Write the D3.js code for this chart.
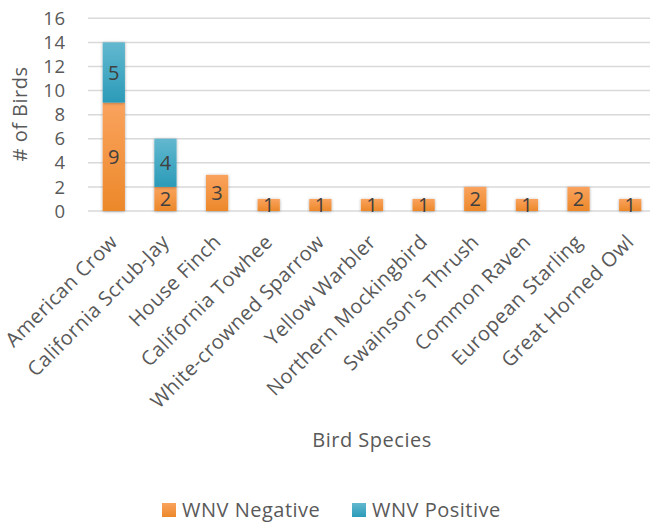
<!DOCTYPE html>
<html>
<head>
<meta charset="utf-8">
<script src="https://cdn.jsdelivr.net/npm/d3@7"></script>
<style>
  body { margin: 0; background: #fff; }
  text { font-family: "Open Sans", sans-serif; }
</style>
</head>
<body>
<div class="canvas"></div>
<script>
const species = ['American Crow', 'California Scrub-Jay', 'House Finch', 'California Towhee',
  'White-crowned Sparrow', 'Yellow Warbler', 'Northern Mockingbird', "Swainson's Thrush",
  'Common Raven', 'European Starling', 'Great Horned Owl']
const negative = [9, 2, 3, 1, 1, 1, 1, 2, 1, 2, 1]
const positive = [5, 4, 0, 0, 0, 0, 0, 0, 0, 0, 0]
const yTicks = [0, 2, 4, 6, 8, 10, 12, 14, 16]
const seriesNames = ['WNV Negative', 'WNV Positive']

const dims = {width: 650, height: 523}
const plot = {left: 88, right: 656, top: 18.3, bottom: 211}

const svg = d3.select('.canvas')
  .append('svg')
  .attr('width', dims.width)
  .attr('height', dims.height)

const defs = svg.append('defs')
const grads = [['neg', '#FAA35E', '#EC882A'], ['pos', '#62B8CF', '#2B9BB8']]
grads.forEach(g => {
  const lg = defs.append('linearGradient').attr('id', 'g-' + g[0])
    .attr('x1', 0).attr('y1', 0).attr('x2', 0).attr('y2', 1)
  lg.append('stop').attr('offset', '0%').attr('stop-color', g[1])
  lg.append('stop').attr('offset', '100%').attr('stop-color', g[2])
})
const shadow = defs.append('filter').attr('id', 'shadow')
  .attr('x', '-50%').attr('y', '-50%').attr('width', '200%').attr('height', '200%')
shadow.append('feDropShadow').attr('dx', 0).attr('dy', 0.5)
  .attr('stdDeviation', 1.6).attr('flood-color', '#000').attr('flood-opacity', 0.35)

const x = d3.scaleBand().domain(species).range([plot.left, plot.right]).paddingInner(0.57).paddingOuter(0.285)
const y = d3.scaleLinear().domain([0, 16]).range([plot.bottom, plot.top])

// gridlines
svg.append('g').selectAll('line')
  .data(yTicks)
  .enter().append('line')
  .attr('x1', plot.left).attr('x2', plot.right)
  .attr('y1', d => y(d)).attr('y2', d => y(d))
  .attr('stroke', '#D9D9D9').attr('stroke-width', 1.5)

// y tick labels
svg.append('g').selectAll('text')
  .data(yTicks)
  .enter().append('text')
  .attr('x', 66).attr('y', d => y(d))
  .attr('dy', '0.36em')
  .attr('text-anchor', 'end')
  .attr('font-size', 18.5)
  .attr('letter-spacing', 0.8)
  .attr('fill', '#595959')
  .text(d => d)

// stacked data
const table = species.map((s, i) => ({name: s, neg: negative[i], pos: positive[i]}))
const stack = d3.stack().keys(['neg', 'pos'])(table)

const graph = svg.append('g')
stack.forEach(layer => {
  graph.append('g').selectAll('rect')
    .data(layer.filter(d => d[1] - d[0] > 0))
    .enter().append('rect')
    .attr('x', d => x(d.data.name))
    .attr('width', x.bandwidth())
    .attr('y', d => y(d[1]))
    .attr('height', d => y(d[0]) - y(d[1]))
    .attr('fill', `url(#g-${layer.key})`)
    .attr('filter', 'url(#shadow)')
})
stack.forEach(layer => {
  graph.append('g').selectAll('text')
    .data(layer.filter(d => d[1] - d[0] > 0))
    .enter().append('text')
    .attr('x', d => x(d.data.name) + x.bandwidth() / 2)
    .attr('y', d => y((d[0] + d[1]) / 2))
    .attr('dy', '0.36em')
    .attr('text-anchor', 'middle')
    .attr('font-size', 20)
    .attr('fill', '#404040')
    .text(d => d[1] - d[0])
})

// x labels
svg.append('g').selectAll('text')
  .data(species)
  .enter().append('text')
  .attr('transform', d => `translate(${x(d) + x.bandwidth() / 2},${plot.bottom + 27}) rotate(-45)`)
  .attr('text-anchor', 'end')
  .attr('dy', '0.36em')
  .attr('font-size', 20)
  .attr('letter-spacing', 0.5)
  .attr('fill', '#595959')
  .text(d => d)

// axis titles
svg.append('text')
  .attr('transform', 'translate(27,114) rotate(-90)')
  .attr('text-anchor', 'middle')
  .attr('font-size', 20)
  .attr('letter-spacing', 0.5)
  .attr('fill', '#595959')
  .text('# of Birds')

svg.append('text')
  .attr('x', 372).attr('y', 447)
  .attr('text-anchor', 'middle')
  .attr('font-size', 20)
  .attr('letter-spacing', 0.5)
  .attr('fill', '#595959')
  .text('Bird Species')

// legend
const legend = svg.append('g')
const legX = [162, 352]
seriesNames.forEach((n, i) => {
  legend.append('rect')
    .attr('x', legX[i]).attr('y', 503)
    .attr('width', 14).attr('height', 14)
    .attr('fill', `url(#g-${i ? 'pos' : 'neg'})`)
  legend.append('text')
    .attr('x', legX[i] + 20).attr('y', 517)
    .attr('font-size', 20)
    .attr('letter-spacing', 0.5)
    .attr('fill', '#595959')
    .text(n)
})
</script>
</body>
</html>
